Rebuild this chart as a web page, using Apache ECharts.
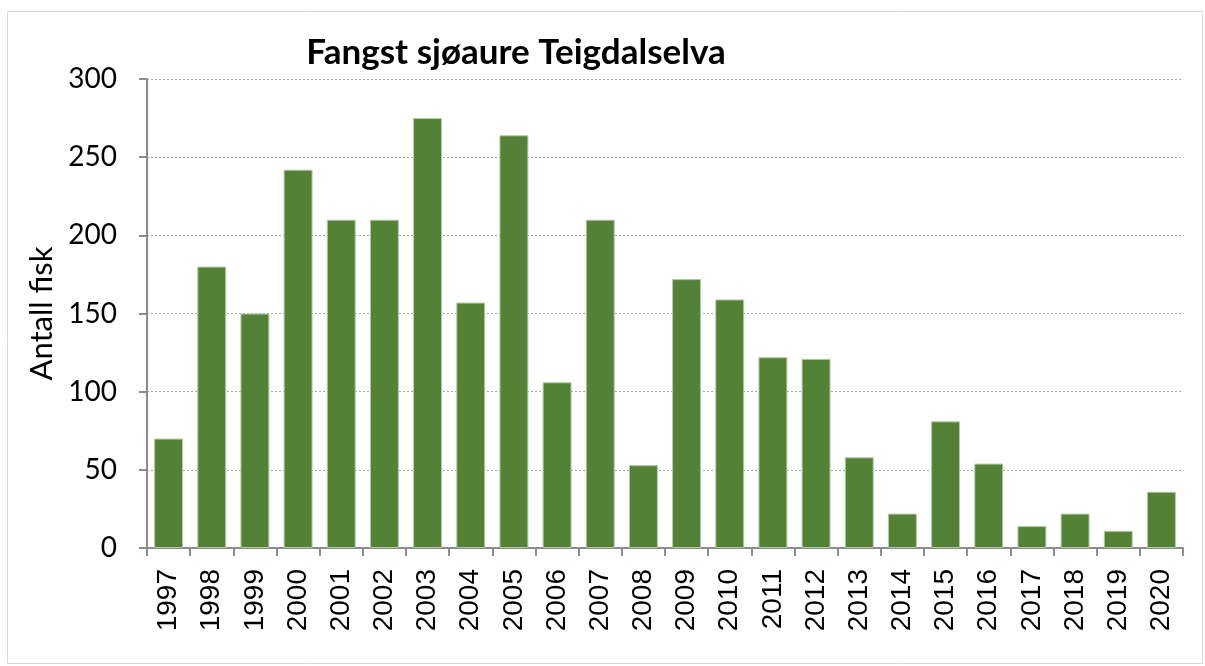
<!DOCTYPE html>
<html lang="no">
<head>
    <meta charset="UTF-8">
    <title>Fangst sjøaure Teigdalselva</title>
    <script src="https://cdn.jsdelivr.net/npm/echarts@6.0.0/dist/echarts.min.js"></script>
    <style>
        html, body { margin: 0; padding: 0; background: #fff; }
        #chart { width: 1205px; height: 666px; }
    </style>
</head>
<body>
    <div id="chart"></div>
    <script>
        // årstall og antall fisk
        const years = ['1997', '1998', '1999', '2000', '2001', '2002', '2003', '2004', '2005', '2006',
            '2007', '2008', '2009', '2010', '2011', '2012', '2013', '2014', '2015', '2016',
            '2017', '2018', '2019', '2020'];
        const catch_ = [70, 180, 150, 242, 210, 210, 275, 157, 264, 106,
            210, 53, 172, 159, 122, 121, 58, 22, 81, 54,
            14, 22, 11, 36];

        const chart = echarts.init(document.getElementById('chart'));
        chart.setOption({
            animation: false,
            title: {
                text: 'Fangst sjøaure Teigdalselva',
                left: 511,
                textAlign: 'center',
                top: 30,
                textStyle: { fontFamily: 'Lato', fontWeight: 'bold', fontSize: 35, color: '#000' }
            },
            graphic: [{
                type: 'rect',
                shape: { x: 7.5, y: 11.5, width: 1195, height: 652 },
                style: { fill: null, stroke: '#d9d9d9', lineWidth: 1 },
                silent: true
            }],
            grid: { left: 147, right: 22, top: 79, bottom: 118, containLabel: false },
            xAxis: {
                type: 'category',
                data: years,
                axisLine: { lineStyle: { color: '#8c8c8c', width: 2 } },
                axisTick: { show: true, length: 8, lineStyle: { color: '#8c8c8c', width: 2 } },
                axisLabel: {
                    rotate: 90, margin: 21, fontSize: 28,
                    fontFamily: 'Liberation Sans', color: '#000'
                }
            },
            yAxis: {
                type: 'value',
                min: 0, max: 300, interval: 50,
                name: 'Antall fisk',
                nameLocation: 'middle',
                nameGap: 76,
                nameTextStyle: { fontFamily: 'Lato', fontSize: 31, color: '#000' },
                axisLine: { show: true, lineStyle: { color: '#8c8c8c', width: 2 } },
                axisTick: { show: true, length: 8, lineStyle: { color: '#8c8c8c', width: 2 } },
                axisLabel: { fontFamily: 'Lato', fontSize: 28, color: '#000', margin: 30 },
                splitLine: { lineStyle: { color: '#a6a6a6', type: [2, 2], width: 1 } }
            },
            series: [{
                type: 'bar',
                data: catch_,
                barCategoryGap: '33%',
                itemStyle: { color: '#538135', borderColor: '#b5c9a8', borderWidth: 1 }
            }]
        });
    </script>
</body>
</html>
